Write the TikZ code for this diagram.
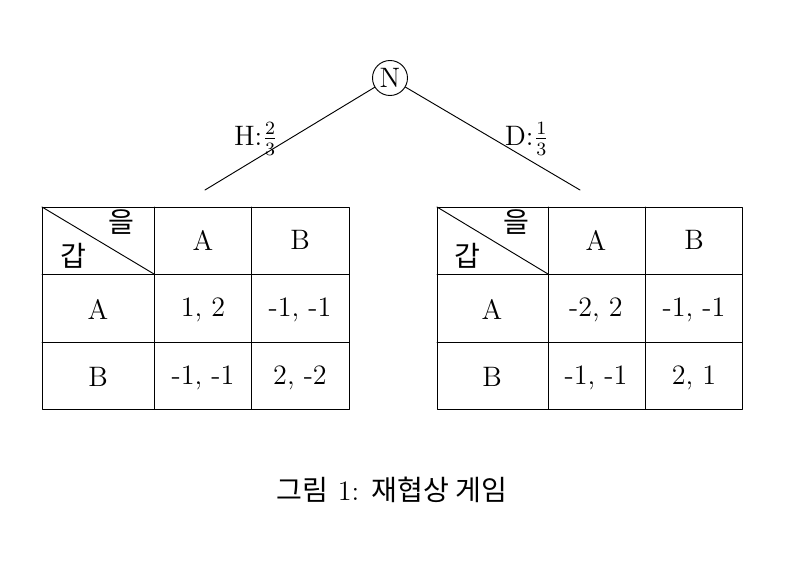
\documentclass[tikz,border=0pt]{standalone}
\usepackage{amsmath}
\usepackage{fontspec}
\newfontfamily\kr{Noto Sans CJK KR}
\usepackage{tikz}

\begin{document}
\begin{tikzpicture}[line cap=round,line join=round,x=0.015cm,y=-0.015cm,
    font=\large,cell/.style={inner sep=0pt}]
        \useasboundingbox (0,0) rectangle (811,568);
        % nature node
        \node [draw,circle,inner sep=0pt,minimum size=35*0.015cm] (nat) at (390,78) {N};
        \coordinate (hend) at (205,190);
        \coordinate (dend) at (580,190);
        \draw (nat) -- (hend);
        \draw (nat) -- (dend);
        \node [cell] (hlab) at (256,139) {H:$\frac{2}{3}$};
        \node [cell] (dlab) at (527,139) {D:$\frac{1}{3}$};
        % left table
        \draw (42,207) rectangle (349,409);
        \draw (154,207)-- (154,409);
        \draw (251,207)-- (251,409);
        \draw (42,274)-- (349,274);
        \draw (42,342)-- (349,342);
        \draw (42,207)-- (154,274);
        \node [cell] (lul) at (121,222) {\kr 을};
        \node [cell] (lgap) at (73,256) {\kr 갑};
        \node [cell] (lcA) at (203,240) {A};
        \node [cell] (lcB) at (300,240) {B};
        \node [cell] (lrA) at (98,309) {A};
        \node [cell] (lrB) at (98,377) {B};
        \node [cell] (lAA) at (203,310) {1, 2};
        \node [cell] (lAB) at (300,310) {-1, -1};
        \node [cell] (lBA) at (203,378) {-1, -1};
        \node [cell] (lBB) at (300,378) {2, -2};
        % right table
        \draw (437,207) rectangle (742,409);
        \draw (548,207)-- (548,409);
        \draw (645,207)-- (645,409);
        \draw (437,274)-- (742,274);
        \draw (437,342)-- (742,342);
        \draw (437,207)-- (548,274);
        \node [cell] (rul) at (516,222) {\kr 을};
        \node [cell] (rgap) at (467,256) {\kr 갑};
        \node [cell] (rcA) at (596,240) {A};
        \node [cell] (rcB) at (694,240) {B};
        \node [cell] (rrA) at (492,309) {A};
        \node [cell] (rrB) at (492,377) {B};
        \node [cell] (rAA) at (596,310) {-2, 2};
        \node [cell] (rAB) at (694,310) {-1, -1};
        \node [cell] (rBA) at (596,378) {-1, -1};
        \node [cell] (rBB) at (694,378) {2, 1};
        % caption
        \node [cell] (capt) at (392,490) {{\kr 그림} 1: {\kr 재협상 게임}};
    \end{tikzpicture}
\end{document}
